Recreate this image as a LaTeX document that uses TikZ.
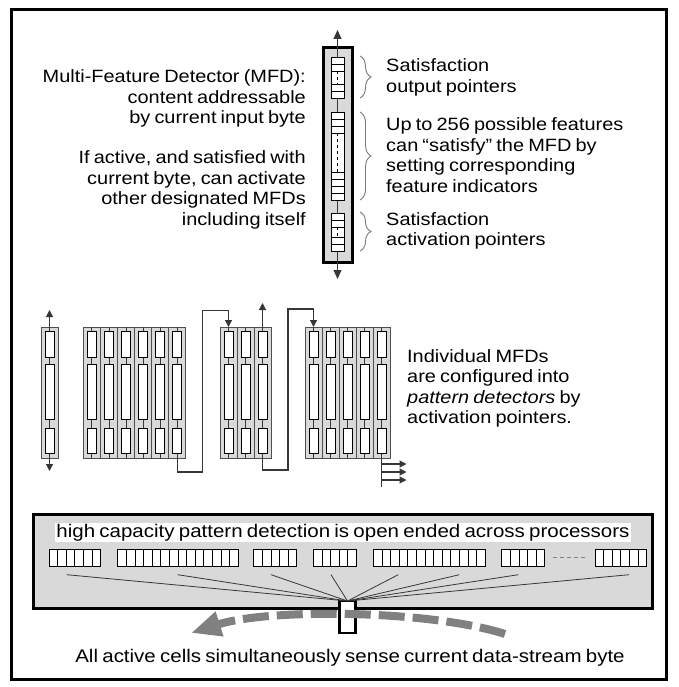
\documentclass[tikz,border=0pt]{standalone}
\usepackage{fontspec}
\setmainfont{Liberation Sans}[FakeStretch=1.12,WordSpace=0.75]
\usetikzlibrary{arrows.meta,decorations.pathreplacing}

\definecolor{panel}{RGB}{217,217,217}
\definecolor{wiregray}{RGB}{55,55,55}
\definecolor{framegray}{RGB}{80,80,80}
\definecolor{bracegray}{RGB}{120,120,120}
\definecolor{streamgray}{RGB}{128,128,128}

\tikzset{
  panelframe/.style={draw=black, line width=3pt, fill=panel},
  colframe/.style={draw=framegray, line width=0.9pt, fill=panel},
  spine/.style={draw=wiregray, line width=0.9pt},
  cell/.style={draw=black, line width=0.9pt, fill=white},
  wirestyle/.style={draw=wiregray, line width=1.1pt},
  smalltip/.style={-{Triangle[length=7pt,width=7pt]}},
  bigtip/.style={-{Triangle[length=9pt,width=8pt]}},
  bracestyle/.style={draw=bracegray, line width=0.9pt, decorate,
    decoration={brace, amplitude=11pt}},
  label/.style={inner sep=0pt, align=left, anchor=west},
  widefont/.style={font=\fontsize{18.3}{21}\selectfont},
}

% one MFD column of the pattern detectors, #1 = name, #2 = centre x
\newcommand{\mfdcolumn}[2]{%
  \draw[colframe] ({#2-8.5},327) rectangle ({#2+8.5},458);
  \draw[spine] (#2,327) -- (#2,458);
  \draw[cell] ({#2-4.5},331) rectangle ({#2+4.5},357);
  \draw[cell] ({#2-4.5},364) rectangle ({#2+4.5},419);
  \draw[cell] ({#2-4.5},428) rectangle ({#2+4.5},453);
  \coordinate (#1-top) at (#2,327);
  \coordinate (#1-bot) at (#2,458);
}

% a processor block of #2 cells starting at x = #1
\newcommand{\procblock}[2]{%
  \foreach \k in {1,...,#2}
    \draw[draw=black, line width=0.8pt, fill=white]
      ({#1+(\k-1)*8.6},549) rectangle ++(8.6,17);
}

\begin{document}
\begin{tikzpicture}[x=1pt,y=-1pt, font=\fontsize{17.8}{20.5}\selectfont]
\useasboundingbox (0,0) rectangle (678,687);
\draw[line width=3pt] (11,10) rectangle (666,679);

% ---------- single multi-feature detector ----------
\coordinate (mfd-top) at (337.5,48);
\coordinate (mfd-bot) at (337.5,262);
\coordinate (mfd-up) at (337.5,30);
\coordinate (mfd-down) at (337.5,279);
\draw[panelframe] (323,48) rectangle (352,262);
\draw[spine] (mfd-top) -- (mfd-bot);
\draw[wirestyle, bigtip] (mfd-top) -- (mfd-up);
\draw[wirestyle, bigtip] (mfd-bot) -- (mfd-down);

% output pointers
\draw[cell] (331,57) rectangle (344.5,98);
\foreach \yy in {64,71,84,91} \draw[line width=0.9pt] (331,\yy) -- (344.5,\yy);
\draw[line width=0.9pt, dashed] (337.7,71) -- (337.7,84);
% feature indicators
\draw[cell] (331,112) rectangle (344.5,200);
\foreach \yy in {119,126,133,172,179,186,193} \draw[line width=0.9pt] (331,\yy) -- (344.5,\yy);
\draw[line width=0.9pt, dashed] (337.7,133) -- (337.7,172);
% activation pointers
\draw[cell] (331,213) rectangle (344.5,251);
\foreach \yy in {220,227,237,244} \draw[line width=0.9pt] (331,\yy) -- (344.5,\yy);
\draw[line width=0.9pt, dashed] (337.7,227) -- (337.7,237);

\draw[bracestyle] (360,56) -- (360,98);
\draw[bracestyle] (360,112) -- (360,200);
\draw[bracestyle] (360,212) -- (360,251);

\node[label] (outptr) at (386,77.5) {Satisfaction\\output pointers};
\node[label] (features) at (386,155) {Up to 256 possible features\\can “satisfy” the MFD by\\setting corresponding\\feature indicators};
\node[label] (actptr) at (386,231) {Satisfaction\\activation pointers};

\node[inner sep=0pt, align=right, anchor=east] (mfdinfo) at (306,98.5)
  {Multi-Feature Detector (MFD):\\content addressable\\by current input byte};
\node[inner sep=0pt, align=right, anchor=east] (actinfo) at (306,190)
  {If active, and satisfied with\\current byte, can activate\\other designated MFDs\\including itself};

% ---------- pattern detectors ----------
\mfdcolumn{s}{49.5}
\foreach \i/\cx in {1/91.9,2/109,3/126.1,4/143.2,5/160.3,6/177.4} { \mfdcolumn{ga\i}{\cx} }
\foreach \i/\cx in {1/228.5,2/245.5,3/262.5} { \mfdcolumn{gb\i}{\cx} }
\foreach \i/\cx in {1/313.5,2/330.5,3/347.5,4/364.5,5/381.5} { \mfdcolumn{gc\i}{\cx} }

\draw[wirestyle, smalltip] (s-top) -- ++(0,-17);
\draw[wirestyle, smalltip] (s-bot) -- ++(0,13);
\draw[wirestyle, smalltip] (ga6-bot) -- ++(0,14) -| (202.7,310.7) -| (gb1-top);
\draw[wirestyle, smalltip] (gb3-top) -- ++(0,-24);
\draw[wirestyle, smalltip] (gb3-bot) -- ++(0,12) -| (288,309) -| (gc1-top);
\draw[wirestyle] (gc5-bot) -- ++(0,29);
\foreach \yy [count=\j] in {464,472,480} {
  \coordinate (tap\j) at (381.5,\yy);
  \draw[wirestyle, smalltip] (tap\j) -- ++(25,0);
}

\node[label] (config) at (407,388.5)
  {\fontsize{17.8}{22.3}\selectfont Individual MFDs\\are configured into\\\textit{pattern detectors} by\\activation pointers.};

% ---------- processors ----------
\draw[panelframe] (33,514) rectangle (652,608);
\node[fill=white, inner sep=1pt, widefont] (capacity) at (343,532.5)
  {high capacity pattern detection is open ended across processors};
\procblock{49}{6}
\procblock{117.7}{14}
\procblock{253.7}{5}
\procblock{313.3}{5}
\procblock{373.3}{13}
\procblock{501.7}{5}
\procblock{595}{6}
\draw[draw=streamgray, line width=1pt, dash pattern=on 4pt off 3pt] (553,557.7) -- (587,557.7);

\node[draw=black, line width=2.5pt, fill=white, minimum width=16, minimum height=32, inner sep=0pt, outer sep=0pt] (sensor) at (347.5,617) {};
\foreach \xx [count=\j] in {66.7,177.7,271,331,398.3,459.3,518.3,629} {
  \coordinate (fan\j) at (\xx,574.7);
  \draw[draw=wiregray, line width=0.8pt] (sensor.north) -- (fan\j);
}

\coordinate (streamstart) at (505,634);
\coordinate (streamend) at (191,633);
\draw[draw=streamgray, line width=8pt, dash pattern=on 26pt off 8pt,
      -{Triangle[length=30pt,width=24pt]}]
  (streamstart) .. controls (430,610) and (270,608) .. (streamend);

\node[widefont] (caption) at (350,658)
  {All active cells simultaneously sense current data-stream byte};
\end{tikzpicture}
\end{document}
